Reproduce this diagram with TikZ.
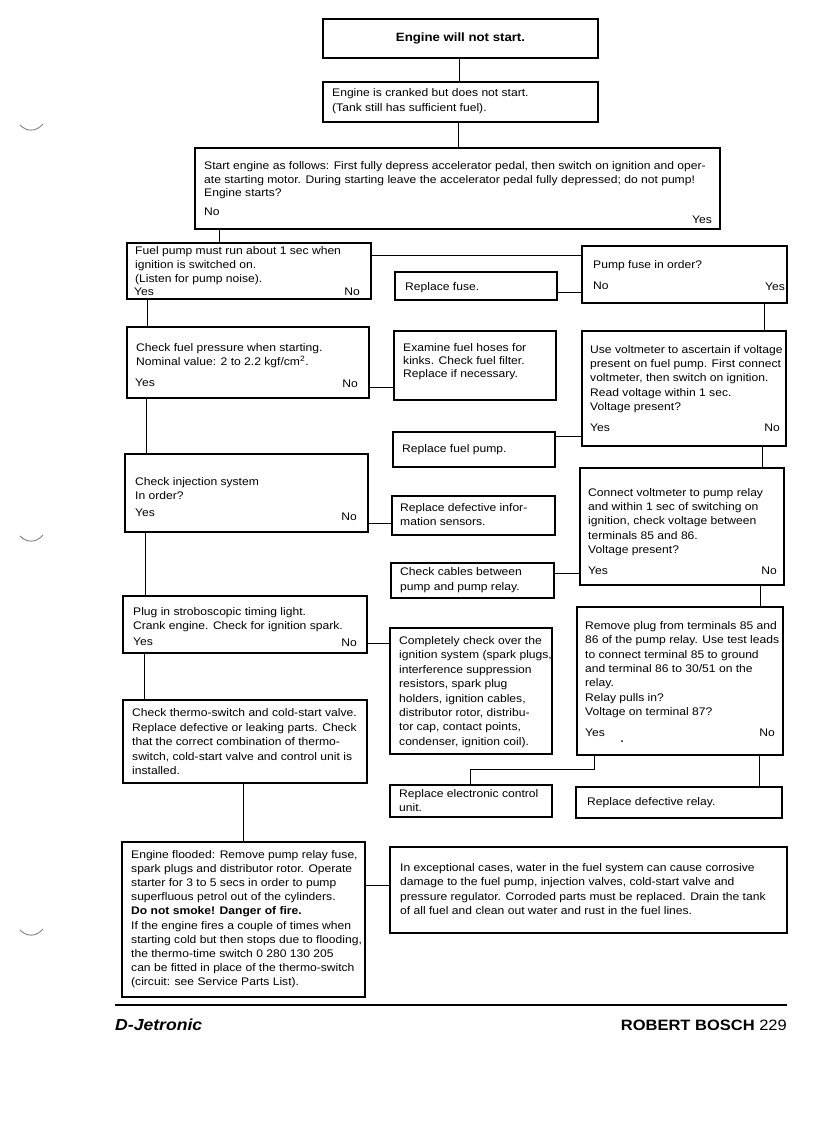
\documentclass[tikz,border=0pt]{standalone}
\usepackage{fontspec}
\setmainfont{Liberation Sans}[FakeStretch=1.1]
\usetikzlibrary{fit}
\newcommand{\tx}[2]{{\fontsize{11}{#1}\selectfont\begin{tabular}[t]{@{}l@{}}#2\end{tabular}}}
\tikzset{
  box/.style={draw, line width=1.4pt, inner sep=0pt},
  tt/.style={anchor=base west, inner sep=0pt, font=\fontsize{11}{14}\selectfont},
  tr/.style={anchor=base east, inner sep=0pt, font=\fontsize{11}{14}\selectfont},
  link/.style={line width=1.4pt},
  punch/.style={draw=gray, line width=0.9pt}
}
\begin{document}
\begin{tikzpicture}[x=1pt,y=-1pt]
\useasboundingbox[fill=white] (0,0) rectangle (816,1122);

% ---- boxes ----
\node[box, fit={(323,19) (598,58)}] (b1) {};
\node[box, fit={(323,82) (598,122)}] (b2) {};
\node[box, fit={(195,148) (720,229)}] (b3) {};
\node[box, fit={(127,243) (371,299)}] (b4) {};
\node[box, fit={(582,246) (787,303)}] (pf) {};
\node[box, fit={(395,272) (557,300)}] (rf) {};
\node[box, fit={(127,327) (369,398)}] (cfp) {};
\node[box, fit={(394,331) (556,400)}] (efh) {};
\node[box, fit={(582,331) (786,446)}] (vm) {};
\node[box, fit={(393,432) (555,467)}] (rfp) {};
\node[box, fit={(125,454) (368,532)}] (cis) {};
\node[box, fit={(392,496) (555,535)}] (rdis) {};
\node[box, fit={(580,468) (784,585)}] (cv) {};
\node[box, fit={(391,563) (554,598)}] (cc) {};
\node[box, fit={(123,596) (367,653)}] (pi) {};
\node[box, fit={(390,628) (552,754)}] (co) {};
\node[box, fit={(577,607) (783,755)}] (rp) {};
\node[box, fit={(123,700) (367,783)}] (ct) {};
\node[box, fit={(390,785) (552,817)}] (recu) {};
\node[box, fit={(576,787) (782,818)}] (rdr) {};
\node[box, fit={(122,842) (365,997)}] (ef) {};
\node[box, fit={(390,847) (787,933)}] (ec) {};

% ---- texts ----
\node[anchor=center, inner sep=0pt, font=\fontsize{12}{14}\selectfont\bfseries] (t1) at (b1.center) {Engine will not start.};
\node[tt] (t2) at (332,96.5) {\tx{14.5}{Engine is cranked but does not start.\\(Tank still has sufficient fuel).}};
\node[tt] (t3) at (204,169.5) {\tx{13.5}{Start engine as follows: First fully depress accelerator pedal, then switch on ignition and oper-\\ate starting motor. During starting leave the accelerator pedal fully depressed; do not pump!\\Engine starts?}};
\node[tt] (t3n) at (204,215.5) {No};
\node[tr] (t3y) at (712,223) {Yes};

\node[tt] (t4) at (135,254) {\tx{14}{Fuel pump must run about 1 sec when\\ignition is switched on.\\(Listen for pump noise).}};
\node[tt] (t4y) at (134,295) {Yes};
\node[tr] (t4n) at (360,295) {No};

\node[tt] (tpf) at (593,268) {Pump fuse in order?};
\node[tt] (tpfn) at (593,289) {No};
\node[tr] (tpfy) at (785,290) {Yes};

\node[tt] (trf) at (405,290) {Replace fuse.};

\node[tt] (tcfp) at (136,351.5) {\tx{14}{Check fuel pressure when starting.\\Nominal value: 2 to 2.2 kgf/cm\textsuperscript{2}.}};
\node[tt] (tcfpy) at (135,386) {Yes};
\node[tr] (tcfpn) at (358,387) {No};

\node[tt] (tefh) at (403,351.5) {\tx{13}{Examine fuel hoses for\\kinks. Check fuel filter.\\Replace if necessary.}};

\node[tt] (tvm) at (590,353.5) {\tx{14.2}{Use voltmeter to ascertain if voltage\\present on fuel pump. First connect\\voltmeter, then switch on ignition.\\Read voltage within 1 sec.\\Voltage present?}};
\node[tt] (tvmy) at (590,431) {Yes};
\node[tr] (tvmn) at (780,431) {No};

\node[tt] (trfp) at (402,452.5) {Replace fuel pump.};

\node[tt] (tcis) at (135,485.5) {\tx{14}{Check injection system\\In order?}};
\node[tt] (tcisy) at (135,516.5) {Yes};
\node[tr] (tcisn) at (357,520) {No};

\node[tt] (trdis) at (400,511.5) {\tx{14}{Replace defective infor-\\mation sensors.}};

\node[tt] (tcv) at (588,496.5) {\tx{14.2}{Connect voltmeter to pump relay\\and within 1 sec of switching on\\ignition, check voltage between\\terminals 85 and 86.\\Voltage present?}};
\node[tt] (tcvy) at (588,574.5) {Yes};
\node[tr] (tcvn) at (777,574.5) {No};

\node[tt] (tcc) at (400,575.5) {\tx{15}{Check cables between\\pump and pump relay.}};

\node[tt] (tpi) at (133,615.5) {\tx{14}{Plug in stroboscopic timing light.\\Crank engine. Check for ignition spark.}};
\node[tt] (tpiy) at (133,645.5) {Yes};
\node[tr] (tpin) at (357,646) {No};

\node[tt] (tco) at (399,644.5) {\tx{14.4}{Completely check over the\\ignition system (spark plugs,\\interference suppression\\resistors, spark plug\\holders, ignition cables,\\distributor rotor, distribu-\\tor cap, contact points,\\condenser, ignition coil).}};

\node[tt] (trp) at (585,629.5) {\tx{14.3}{Remove plug from terminals 85 and\\86 of the pump relay. Use test leads\\to connect terminal 85 to ground\\and terminal 86 to 30/51 on the\\relay.\\Relay pulls in?\\Voltage on terminal 87?}};
\node[tt] (trpy) at (585,736.5) {Yes};
\node[tr] (trpn) at (775,736.5) {No};
\fill (622,741) circle (1);

\node[tt] (tct) at (132,716.5) {\tx{14.5}{Check thermo-switch and cold-start valve.\\Replace defective or leaking parts. Check\\that the correct combination of thermo-\\switch, cold-start valve and control unit is\\installed.}};

\node[tt] (trecu) at (399,797.5) {\tx{14}{Replace electronic control\\unit.}};
\node[tt] (trdr) at (587,805.5) {Replace defective relay.};

\node[tt] (tef) at (131,858.5) {\tx{14.1}{Engine flooded: Remove pump relay fuse,\\spark plugs and distributor rotor. Operate\\starter for 3 to 5 secs in order to pump\\superfluous petrol out of the cylinders.\\\textbf{Do not smoke! Danger of fire.}\\If the engine fires a couple of times when\\starting cold but then stops due to flooding,\\the thermo-time switch 0 280 130 205\\can be fitted in place of the thermo-switch\\(circuit: see Service Parts List).}};

\node[tt] (tec) at (400,871) {\tx{14.5}{In exceptional cases, water in the fuel system can cause corrosive\\damage to the fuel pump, injection valves, cold-start valve and\\pressure regulator. Corroded parts must be replaced. Drain the tank\\of all fuel and clean out water and rust in the fuel lines.}};

% ---- connectors ----
\draw[link] ([xshift=137pt]b1.south west) -- ([xshift=137pt]b2.north west);
\draw[link] ([xshift=136pt]b2.south west) -- ([xshift=264pt]b3.north west);
\draw[link] ([xshift=25pt]b3.south west) -- ([xshift=93pt]b4.north west);
\draw[link] ([yshift=-13pt]b4.north east) -- ([yshift=-10pt]pf.north west);
\draw[link] ([yshift=-21pt]rf.north east) -- ([yshift=-47pt]pf.north west);
\draw[link] ([xshift=183pt]pf.south west) -- ([xshift=183pt]vm.north west);
\draw[link] ([xshift=21pt]b4.south west) -- ([xshift=21pt]cfp.north west);
\draw[link] ([yshift=-61pt]cfp.north east) -- ([yshift=-57pt]efh.north west);
\draw[link] ([yshift=-5pt]rfp.north east) -- ([yshift=-106pt]vm.north west);
\draw[link] ([xshift=20pt]cfp.south west) -- ([xshift=22pt]cis.north west);
\draw[link] ([yshift=-70pt]cis.north east) -- ([yshift=-28pt]rdis.north west);
\draw[link] ([xshift=181pt]vm.south west) -- ([xshift=183pt]cv.north west);
\draw[link] ([yshift=-11pt]cc.north east) -- ([yshift=-106pt]cv.north west);
\draw[link] ([xshift=21pt]cis.south west) -- ([xshift=23pt]pi.north west);
\draw[link] ([yshift=-48pt]pi.north east) -- ([yshift=-16pt]co.north west);
\draw[link] ([xshift=181pt]cv.south west) -- ([xshift=184pt]rp.north west);
\draw[link] ([xshift=22pt]pi.south west) -- ([xshift=22pt]ct.north west);
\draw[link] ([xshift=18pt]rp.south west) |- ([xshift=81pt,yshift=15pt]recu.north west) -- ([xshift=81pt]recu.north west);
\draw[link] ([xshift=183pt]rp.south west) -- ([xshift=184pt]rdr.north west);
\draw[link] ([xshift=121pt]ct.south west) -- ([xshift=122pt]ef.north west);
\draw[link] ([yshift=-44pt]ef.north east) -- ([yshift=-39pt]ec.north west);

% ---- footer ----
\draw[line width=2.4pt] (115,1005) -- (787,1005);
\node[anchor=base west, inner sep=0pt, font=\fontsize{16}{16}\selectfont\bfseries\itshape] (dj) at (115,1030) {D-Jetronic};
\node[anchor=base east, inner sep=0pt, font=\fontsize{15}{15}\selectfont] (rb) at (787,1030) {\textbf{ROBERT BOSCH} 229};

% ---- punch marks ----
\draw[punch] (20,125) .. controls (27,132) and (36,132) .. (43,124);
\draw[punch] (20,536) .. controls (27,543) and (36,543) .. (43,535);
\draw[punch] (20,930) .. controls (27,937) and (36,937) .. (43,929);
\end{tikzpicture}
\end{document}
